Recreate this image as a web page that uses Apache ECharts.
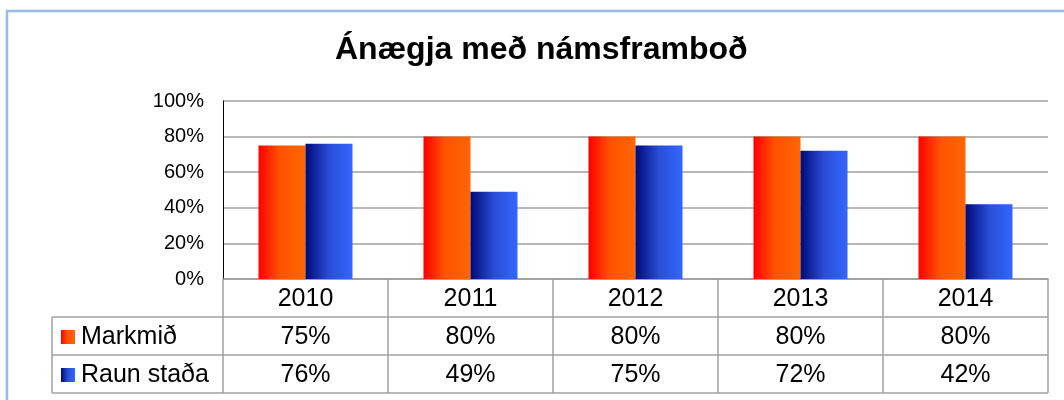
<!DOCTYPE html>
<html>
<head>
<meta charset="utf-8">
<script src="https://cdn.jsdelivr.net/npm/echarts@6/dist/echarts.min.js"></script>
<style>
html,body{margin:0;padding:0;background:#fff;}
#c{width:1064px;height:400px;}
</style>
</head>
<body>
<div id="c"></div>
<script>
// ---- data ----
const titleText = 'Ánægja með námsframboð';
const categories = ['2010', '2011', '2012', '2013', '2014'];
const seriesNames = ['Markmið', 'Raun staða'];
const markmid = [0.75, 0.80, 0.80, 0.80, 0.80];
const raunStada = [0.76, 0.49, 0.75, 0.72, 0.42];
const yTickValues = [0, 0.2, 0.4, 0.6, 0.8, 1.0];

// ---- styles ----
const FONT = '"Liberation Sans", Arial, sans-serif';
const redStops = [
  {offset: 0, color: '#ff0000'},
  {offset: 0.45, color: '#ff5200'},
  {offset: 1, color: '#ff6600'}
];
const blueStops = [
  {offset: 0, color: '#000a78'},
  {offset: 0.5, color: '#2a4ed6'},
  {offset: 1, color: '#3366ff'}
];
const grad = (stops) => new echarts.graphic.LinearGradient(0, 0, 1, 0, stops);
const seriesValues = [markmid, raunStada];
const seriesStops = [redStops, blueStops];
const pct = v => Math.round(v * 100) + '%';

const chart = echarts.init(document.getElementById('c'), null, {renderer: 'canvas'});
const option = {
  animation: false,
  backgroundColor: '#fff',
  title: {
    text: titleText,
    left: 330,
    top: 29,
    textStyle: {fontFamily: FONT, fontSize: 32, fontWeight: 'bold', color: '#000'}
  },
  grid: {left: 223, right: 16, top: 101, bottom: 121, containLabel: false},
  xAxis: {
    type: 'category',
    data: categories,
    axisLine: {show: true, lineStyle: {color: '#a0a0a0', width: 1.5}},
    axisTick: {show: false},
    axisLabel: {show: false},
    splitLine: {show: false}
  },
  yAxis: {
    type: 'value',
    min: 0, max: 1, interval: 0.2,
    axisLine: {show: true, lineStyle: {color: '#000', width: 1}},
    axisTick: {show: false},
    axisLabel: {
      margin: 19,
      fontFamily: FONT, fontSize: 20, color: '#000',
      formatter: v => yTickValues.some(t => Math.abs(t - v) < 1e-9) ? pct(v) : ''
    },
    splitLine: {show: true, lineStyle: {color: '#a0a0a0', width: 1.5}}
  },
  series: seriesNames.map((name, i) => ({
    name: name,
    type: 'bar',
    data: seriesValues[i],
    barWidth: 47,
    barGap: '0%',
    itemStyle: {color: grad(seriesStops[i])}
  }))
};
chart.setOption(option);

// ---- data table below the plot ----
const xs = categories.map(c => chart.convertToPixel({xAxisIndex: 0}, c));
const half = (xs[1] - xs[0]) / 2;
const y0 = chart.convertToPixel({yAxisIndex: 0}, 0);
const rowH = 38;
const leftCol = 52;
const xL = xs[0] - half, xR = xs[xs.length - 1] + half;
const lineStyle = {stroke: '#a0a0a0', lineWidth: 1.5};
const g = [];
// horizontal lines
g.push({type: 'line', shape: {x1: xL, y1: y0, x2: xR, y2: y0}, style: lineStyle});
for (let r = 1; r <= 3; r++) {
  g.push({type: 'line', shape: {x1: leftCol, y1: y0 + r * rowH, x2: xR, y2: y0 + r * rowH}, style: lineStyle});
}
// vertical lines
for (let k = 0; k <= categories.length; k++) {
  const x = xL + k * 2 * half;
  g.push({type: 'line', shape: {x1: x, y1: y0, x2: x, y2: y0 + 3 * rowH}, style: lineStyle});
}
g.push({type: 'line', shape: {x1: leftCol, y1: y0 + rowH, x2: leftCol, y2: y0 + 3 * rowH}, style: lineStyle});
// year row
categories.forEach((c, i) => {
  g.push({type: 'text', style: {text: c, x: xs[i], y: y0 + rowH / 2 + 1, align: 'center', verticalAlign: 'middle', font: '25px ' + FONT, fill: '#000'}});
});
// value rows + legend keys
seriesNames.forEach((name, s) => {
  const cy = y0 + (s + 1) * rowH + rowH / 2 + 1;
  g.push({type: 'rect', shape: {x: 61, y: cy - 7, width: 14, height: 14}, style: {fill: grad(seriesStops[s])}});
  g.push({type: 'text', style: {text: name, x: 81, y: cy, align: 'left', verticalAlign: 'middle', font: '25px ' + FONT, fill: '#000'}});
  seriesValues[s].forEach((v, i) => {
    g.push({type: 'text', style: {text: pct(v), x: xs[i], y: cy, align: 'center', verticalAlign: 'middle', font: '25px ' + FONT, fill: '#000'}});
  });
});
// outer frame (light blue)
g.push({type: 'polyline', shape: {points: [[7, 400], [7, 11], [1064, 11]]}, style: {stroke: '#95bde6', lineWidth: 2.5, fill: null}});

chart.setOption({graphic: {elements: g}});
</script>
</body>
</html>
